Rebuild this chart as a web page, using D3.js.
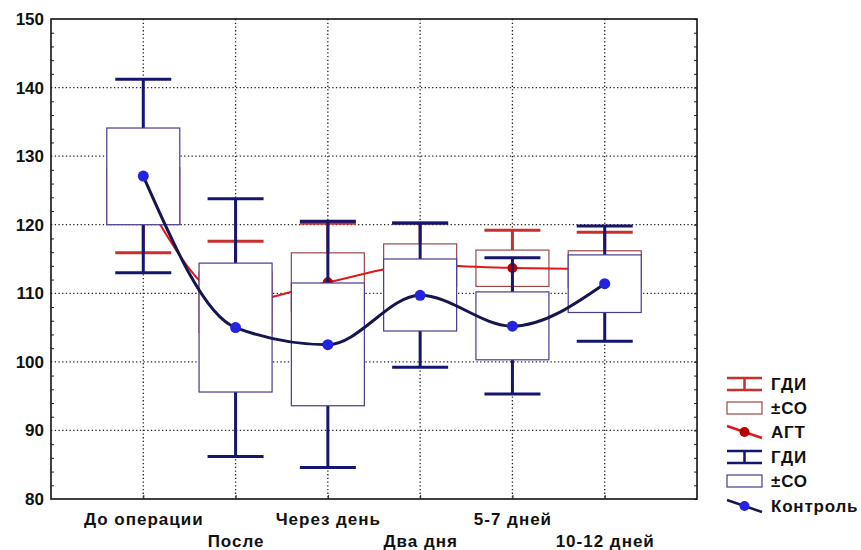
<!DOCTYPE html>
<html>
<head>
<meta charset="utf-8">
<script src="https://cdn.jsdelivr.net/npm/d3@7"></script>
<style>
body { margin: 0; background: #fff; }
text { font-family: "Liberation Sans", Arial, sans-serif; font-weight: bold; fill: #111; }
</style>
</head>
<body>
<svg id="chart"></svg>
<script>
const categories = ["До операции", "После", "Через день", "Два дня", "5-7 дней", "10-12 дней"];
const yTicks = [80, 90, 100, 110, 120, 130, 140, 150];
const yMinorTicks = [82, 84, 86, 88, 92, 94, 96, 98, 102, 104, 106, 108, 112, 114, 116, 118,
    122, 124, 126, 128, 132, 134, 136, 138, 142, 144, 146, 148];

// АГТ (red)
const agtMean = [124.2, 108.7, 111.6, 114.1, 113.7, 113.5];
const agtBoxLow = [120.1, 104.3, 107.3, 111.0, 111.0, 110.8];
const agtBoxHigh = [128.3, 113.1, 115.9, 117.2, 116.3, 116.2];
const agtCiLow = [115.9, 99.8, 103.0, 107.9, 108.3, 108.1];
const agtCiHigh = [132.5, 117.6, 120.2, 120.3, 119.2, 118.9];

// Контроль (blue)
const ctrlMean = [127.1, 105.0, 102.5, 109.7, 105.2, 111.4];
const ctrlBoxLow = [120.0, 95.6, 93.6, 104.5, 100.3, 107.2];
const ctrlBoxHigh = [134.1, 114.4, 111.5, 115.0, 110.2, 115.6];
const ctrlCiLow = [113.0, 86.2, 84.6, 99.2, 95.3, 103.0];
const ctrlCiHigh = [141.2, 123.8, 120.5, 120.2, 115.2, 119.8];

const legendLabels = ["ГДИ", "±СО", "АГТ", "ГДИ", "±СО", "Контроль"];

class BoxChart {
    constructor() {
        this.margin = { top: 19, right: 164, bottom: 51, left: 51 };
        this.vizWidth = 861 - this.margin.left - this.margin.right;
        this.vizHeight = 550 - this.margin.top - this.margin.bottom;
        this.x = d3.scalePoint()
            .domain(categories)
            .range([0, this.vizWidth])
            .padding(1);
        this.y = d3.scaleLinear()
            .domain([80, 150])
            .range([this.vizHeight, 0]);
        this.boxHalf = 36.5;
        this.capHalf = 28;
        this.drawPlot();
    }

    drawPlot() {
        let that = this;
        let svg = d3.select('#chart')
            .attr('width', 861)
            .attr('height', 550);
        svg.append('rect').attr('width', 861).attr('height', 550).attr('fill', '#fff');
        let plot = svg.append('g')
            .attr('transform', 'translate(' + this.margin.left + ',' + this.margin.top + ')');

        // grid
        plot.append('g').selectAll('line')
            .data(yTicks.filter(d => d > 80 && d < 150))
            .join('line')
            .attr('x1', 0).attr('x2', this.vizWidth)
            .attr('y1', d => that.y(d)).attr('y2', d => that.y(d))
            .attr('stroke', '#222').attr('stroke-width', 1.3)
            .attr('stroke-dasharray', '1.3,2.4');
        plot.append('g').selectAll('line')
            .data(categories)
            .join('line')
            .attr('x1', d => that.x(d)).attr('x2', d => that.x(d))
            .attr('y1', 0).attr('y2', this.vizHeight)
            .attr('stroke', '#222').attr('stroke-width', 1.3)
            .attr('stroke-dasharray', '1.3,2.4');

        // axes
        let left = plot.append('g').call(d3.axisLeft(this.y).tickValues(yTicks).tickSize(0).tickPadding(7));
        left.selectAll('text').style('font-size', '17px');
        plot.append('g').call(d3.axisLeft(this.y).tickValues(yMinorTicks).tickSize(-3).tickFormat(''));
        plot.append('g').attr('transform', 'translate(' + this.vizWidth + ',0)')
            .call(d3.axisRight(this.y).tickValues(yMinorTicks.concat(yTicks)).tickSize(-3).tickFormat(''));
        let bottom = plot.append('g').attr('transform', 'translate(0,' + this.vizHeight + ')')
            .call(d3.axisBottom(this.x).tickSize(-4));
        bottom.selectAll('text')
            .attr('y', (d, i) => i % 2 ? 36 : 14)
            .style('font-size', '17px')
            .style('letter-spacing', '1px');
        plot.selectAll('.domain').remove();
        plot.selectAll('.tick line').attr('stroke', '#222');

        this.drawSeries(plot, {
            mean: agtMean, boxLow: agtBoxLow, boxHigh: agtBoxHigh, ciLow: agtCiLow, ciHigh: agtCiHigh,
            whisker: '#c8302c', box: '#9a4848', line: '#e01818', dot: '#b80000', lineWidth: 2, r: 5
        });
        this.drawSeries(plot, {
            mean: ctrlMean, boxLow: ctrlBoxLow, boxHigh: ctrlBoxHigh, ciLow: ctrlCiLow, ciHigh: ctrlCiHigh,
            whisker: '#16166c', box: '#4a3a8c', line: '#15154f', dot: '#2424e0', lineWidth: 3, r: 5.5
        });

        plot.append('rect')
            .attr('width', this.vizWidth).attr('height', this.vizHeight)
            .attr('fill', 'none').attr('stroke', '#111').attr('stroke-width', 1.6);

        this.drawLegend(svg);
    }

    drawSeries(plot, s) {
        let that = this;
        let g = plot.append('g');
        let idx = d3.range(categories.length);
        // whiskers
        g.selectAll('.wu').data(idx).join('line')
            .attr('x1', i => that.x(categories[i])).attr('x2', i => that.x(categories[i]))
            .attr('y1', i => that.y(s.boxHigh[i])).attr('y2', i => that.y(s.ciHigh[i]))
            .attr('stroke', s.whisker).attr('stroke-width', 3);
        g.selectAll('.wl').data(idx).join('line')
            .attr('x1', i => that.x(categories[i])).attr('x2', i => that.x(categories[i]))
            .attr('y1', i => that.y(s.boxLow[i])).attr('y2', i => that.y(s.ciLow[i]))
            .attr('stroke', s.whisker).attr('stroke-width', 3);
        [s.ciHigh, s.ciLow].forEach(arr => {
            g.append('g').selectAll('line').data(idx).join('line')
                .attr('x1', i => that.x(categories[i]) - that.capHalf)
                .attr('x2', i => that.x(categories[i]) + that.capHalf)
                .attr('y1', i => that.y(arr[i])).attr('y2', i => that.y(arr[i]))
                .attr('stroke', s.whisker).attr('stroke-width', 3);
        });
        // boxes
        g.append('g').selectAll('rect').data(idx).join('rect')
            .attr('x', i => that.x(categories[i]) - that.boxHalf)
            .attr('width', this.boxHalf * 2)
            .attr('y', i => that.y(s.boxHigh[i]))
            .attr('height', i => that.y(s.boxLow[i]) - that.y(s.boxHigh[i]))
            .attr('fill', '#fff').attr('stroke', s.box).attr('stroke-width', 1.2);
        // mean line
        g.append('path')
            .datum(idx)
            .attr('fill', 'none')
            .attr('stroke', s.line)
            .attr('stroke-width', s.lineWidth)
            .attr('d', d3.line()
                .curve(d3.curveMonotoneX)
                .x(i => that.x(categories[i]))
                .y(i => that.y(s.mean[i])));
        g.append('g').selectAll('circle').data(idx).join('circle')
            .attr('cx', i => that.x(categories[i]))
            .attr('cy', i => that.y(s.mean[i]))
            .attr('r', s.r)
            .attr('fill', s.dot);
    }

    drawLegend(svg) {
        let lg = svg.append('g').attr('transform', 'translate(727,0)');
        let ys = [384, 408, 432, 457, 481, 506];
        let styles = [
            { type: 'ci', c: '#c8302c' }, { type: 'box', c: '#9a4848' }, { type: 'line', c: '#e01818', dot: '#b80000' },
            { type: 'ci', c: '#16166c' }, { type: 'box', c: '#4a3a8c' }, { type: 'line', c: '#15154f', dot: '#2424e0' }
        ];
        styles.forEach((st, i) => {
            let g = lg.append('g').attr('transform', 'translate(0,' + ys[i] + ')');
            if (st.type == 'ci') {
                g.append('path').attr('d', 'M0,-6H35M0,6H35M17.5,-6V6')
                    .attr('stroke', st.c).attr('stroke-width', 2.5).attr('fill', 'none');
            } else if (st.type == 'box') {
                g.append('rect').attr('x', 0).attr('y', -6).attr('width', 35).attr('height', 12)
                    .attr('fill', '#fff').attr('stroke', st.c).attr('stroke-width', 1.2);
            } else {
                g.append('line').attr('x1', 0).attr('y1', -6).attr('x2', 35).attr('y2', 6)
                    .attr('stroke', st.c).attr('stroke-width', 2.5);
                g.append('circle').attr('cx', 17.5).attr('cy', 0).attr('r', 5).attr('fill', st.dot);
            }
            g.append('text').attr('x', 44).attr('dy', '0.36em')
                .style('font-size', '17px').style('letter-spacing', '0.8px').text(legendLabels[i]);
        });
    }
}

new BoxChart();
</script>
</body>
</html>
